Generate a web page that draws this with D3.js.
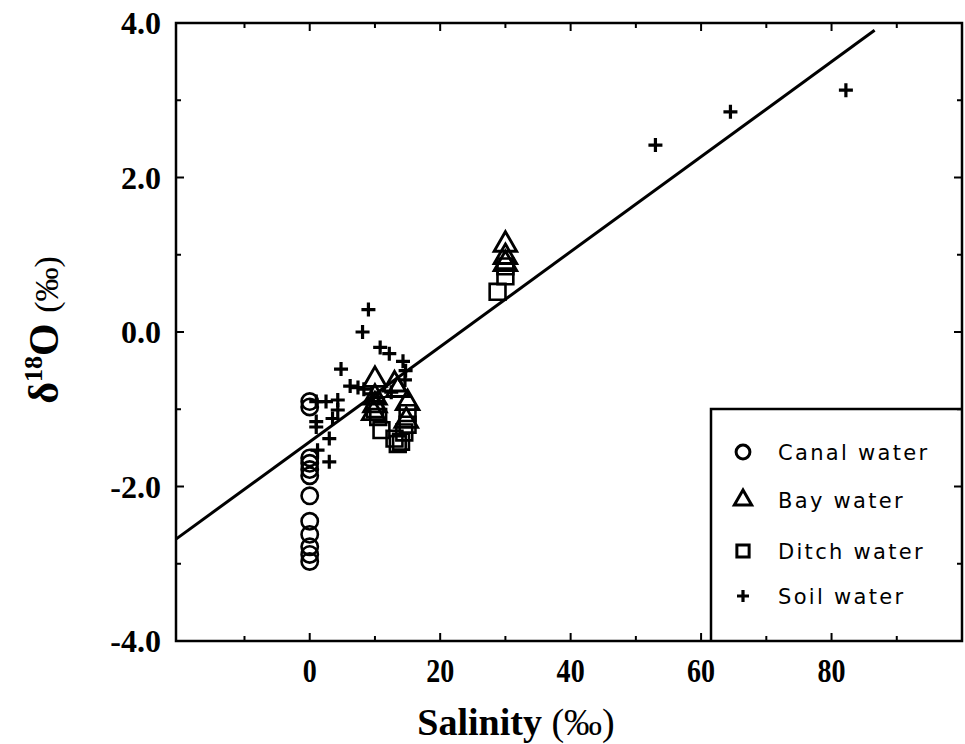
<!DOCTYPE html>
<html><head><meta charset="utf-8">
<script src="https://cdn.jsdelivr.net/npm/d3@7"></script>
<style>body{margin:0;background:#fff}svg{display:block}</style>
</head><body>
<svg id="c" width="965" height="744"></svg>
<script>
// ---- data ----
const canalSal = [0,0,0,0,0,0,0,0,0,0,0,0];
const canalO18 = [-0.9,-0.97,-1.63,-1.7,-1.78,-1.86,-2.12,-2.45,-2.62,-2.78,-2.88,-2.97];
const baySal = [10,10,10,9.8,13,13.5,15,14.8,30,30,30];
const bayO18 = [-0.62,-0.85,-0.95,-1.05,-0.68,-0.75,-0.92,-1.15,1.13,0.97,0.88];
const ditchSal = [10,10.5,11,13,13.5,14.5,15,15,14,28.8,30,30];
const ditchO18 = [-1.0,-1.1,-1.27,-1.38,-1.45,-1.3,-1.05,-1.2,-1.42,0.52,0.72,0.85];
const soilSal = [9.0,8.1,10.8,12.2,4.8,14.3,14.7,14.6,6.2,7.4,8.3,9.5,10.5,12.5,4.3,2.5,4.3,1.0,3.5,1.0,3.0,1.2,3.0,1.0,53,64.5,82.2];
const soilO18 = [0.29,0.0,-0.2,-0.28,-0.48,-0.38,-0.5,-0.62,-0.7,-0.72,-0.74,-0.8,-0.85,-0.78,-0.88,-0.9,-1.01,-1.16,-1.12,-1.23,-1.38,-1.53,-1.68,-0.9,2.42,2.85,3.13];
const fitSlope = 0.0615, fitIntercept = -1.42, fitRange = [-20.5, 86.6];
const xMajor = [0,20,40,60,80];
const xMinor = [-10,10,30,50,70,90];
const yMajor = [-4,-2,0,2,4];
const yMinor = [-3,-1,1,3];
const yTickLabels = ["-4.0","-2.0","0.0","2.0","4.0"];
const legendNames = ["Canal water","Bay water","Ditch water","Soil water"];

const svg = d3.select("#c");
const L=176, R=962, T=23, B=641;
const x = d3.scaleLinear().domain([-20.5,100]).range([L,R]);
const y = d3.scaleLinear().domain([-4,4]).range([B,T]);

// frame
svg.append("rect").attr("x",L).attr("y",T).attr("width",R-L).attr("height",B-T)
  .attr("fill","none").attr("stroke","#000").attr("stroke-width",2.5);

// ticks (inward, all four sides)
const tk = svg.append("g").attr("stroke","#000").attr("stroke-width",2);
function xt(vals,len){vals.forEach(v=>{const px=x(v);
  tk.append("line").attr("x1",px).attr("x2",px).attr("y1",B).attr("y2",B-len);
  tk.append("line").attr("x1",px).attr("x2",px).attr("y1",T).attr("y2",T+len);});}
function yt(vals,len){vals.forEach(v=>{const py=y(v);
  tk.append("line").attr("y1",py).attr("y2",py).attr("x1",L).attr("x2",L+len);
  tk.append("line").attr("y1",py).attr("y2",py).attr("x1",R).attr("x2",R-len);});}
xt(xMajor,8); xt(xMinor,5); yt(yMajor,8); yt(yMinor,5);

// tick labels
const serif = "'Liberation Serif','Times New Roman',serif";
svg.append("g").selectAll("text").data(xMajor).join("text")
  .attr("transform",d=>`translate(${x(d)},682) scale(0.85,1)`).attr("text-anchor","middle")
  .attr("font-family",serif).attr("font-weight","bold").attr("font-size",33)
  .text(d=>d);
svg.append("g").selectAll("text").data(yMajor).join("text")
  .attr("x",161).attr("y",d=>y(d)+11).attr("text-anchor","end")
  .attr("font-family",serif).attr("font-weight","bold").attr("font-size",32)
  .text((d,i)=>yTickLabels[i]);

// axis titles
const xl = svg.append("text").attr("x",516).attr("y",735).attr("text-anchor","middle")
  .attr("font-family",serif).attr("font-weight","bold").attr("font-size",38);
xl.append("tspan").text("Salinity ");
xl.append("tspan").attr("font-weight","normal").text("(‰)");

const yl = svg.append("text").attr("transform","translate(58,330) rotate(-90)")
  .attr("text-anchor","middle").attr("font-family",serif).attr("font-weight","bold").attr("font-size",42);
yl.append("tspan").text("δ");
yl.append("tspan").attr("font-size",26).attr("dy",-16).text("18");
yl.append("tspan").attr("dy",16).text("O ");
yl.append("tspan").attr("font-weight","normal").attr("font-size",34).text("(‰)");

// regression line
svg.append("line").attr("x1",x(fitRange[0])).attr("y1",y(fitSlope*fitRange[0]+fitIntercept))
  .attr("x2",x(fitRange[1])).attr("y2",y(fitSlope*fitRange[1]+fitIntercept))
  .attr("stroke","#000").attr("stroke-width",3);

// markers
const g = svg.append("g").attr("fill","none").attr("stroke","#000");
const sym = {
  circle: d3.symbol().type(d3.symbolCircle).size(210),
  triangle: d3.symbol().type(d3.symbolTriangle).size(220),
  square: d3.symbol().type(d3.symbolSquare).size(250),
  plus: "M-7,0H7M0,-7V7"
};
function pts(xs,ys,shape,sw){
  g.append("g").selectAll("path").data(xs.map((v,i)=>[v,ys[i]])).join("path")
   .attr("transform",d=>`translate(${x(d[0])},${y(d[1])})`)
   .attr("d",shape==="plus"?sym.plus:sym[shape]()).attr("stroke-width",sw);
}
pts(canalSal,canalO18,"circle",2.6);
pts(baySal,bayO18,"triangle",2.9);
pts(ditchSal,ditchO18,"square",2.6);
pts(soilSal,soilO18,"plus",3.2);

// legend
const lg = svg.append("g");
lg.append("path").attr("d",`M${R},409H711V${B}`).attr("fill","none").attr("stroke","#000").attr("stroke-width",2.5);
const shapes=["circle","triangle","square","plus"];
const lsym = {
  circle: d3.symbol().type(d3.symbolCircle).size(150),
  triangle: d3.symbol().type(d3.symbolTriangle).size(130),
  square: d3.symbol().type(d3.symbolSquare).size(150)
};
const ly=[452,500,551,596];
legendNames.forEach((n,i)=>{
  lg.append("path").attr("transform",`translate(743,${ly[i]})`)
    .attr("d",shapes[i]==="plus"?"M-6,0H6M0,-6V6":lsym[shapes[i]]())
    .attr("fill","none").attr("stroke","#000").attr("stroke-width",shapes[i]==="plus"?3.2:3);
  lg.append("text").attr("x",778).attr("y",ly[i]+8).attr("font-family","'DejaVu Sans',sans-serif")
    .attr("font-weight","normal").attr("font-size",21).attr("letter-spacing",2.3).attr("fill","#000").text(n);
});
</script>
</body></html>
